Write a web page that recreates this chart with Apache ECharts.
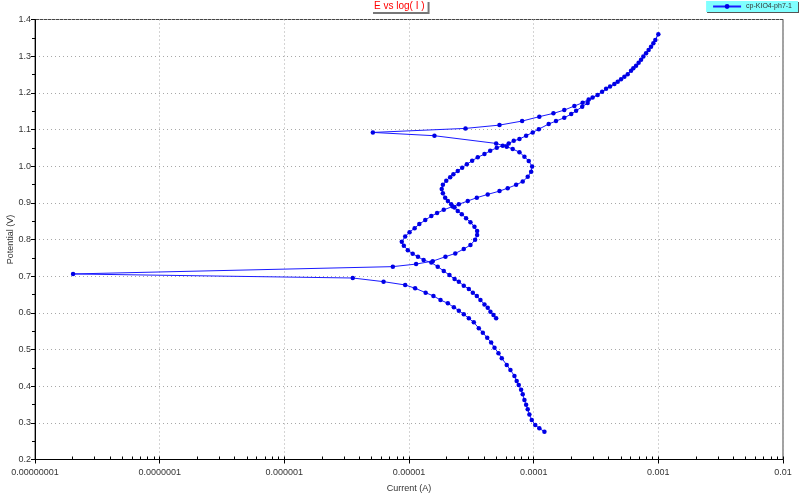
<!DOCTYPE html>
<html>
<head>
<meta charset="utf-8">
<script src="https://cdn.jsdelivr.net/npm/echarts@6/dist/echarts.min.js"></script>
<style>
html,body{margin:0;padding:0;background:#fff;}
#chart{width:800px;height:493px;}
</style>
</head>
<body>
<div id="chart"></div>
<script>
// Forward scan, cathodic branch (from lowest potential upward), current in A, potential in V
const fwdCathodicI = [1.22e-4,1.11e-4,1.03e-4,9.65e-5,9.24e-5,8.96e-5,8.70e-5,8.43e-5,8.17e-5,7.93e-5,7.59e-5,7.31e-5,7.01e-5,6.51e-5,6.08e-5,5.55e-5,5.22e-5,4.85e-5,4.56e-5,4.24e-5,3.91e-5,3.63e-5,3.31e-5,3.02e-5,2.75e-5,2.51e-5,2.29e-5,2.05e-5,1.79e-5,1.57e-5,1.36e-5,1.12e-5,9.32e-6,6.25e-6,3.54e-6,2.02e-8];
const fwdCathodicE = [0.276,0.285,0.294,0.308,0.323,0.337,0.349,0.362,0.378,0.390,0.403,0.414,0.428,0.444,0.458,0.476,0.490,0.505,0.519,0.532,0.546,0.558,0.574,0.585,0.596,0.606,0.615,0.626,0.635,0.646,0.655,0.667,0.676,0.685,0.695,0.706];
// Forward scan, anodic branch up to the vertex
const fwdAnodicI = [7.42e-6,1.14e-5,1.55e-5,1.96e-5,2.35e-5,2.75e-5,3.11e-5,3.39e-5,3.52e-5,3.52e-5,3.35e-5,3.11e-5,2.87e-5,2.65e-5,2.46e-5,2.32e-5,2.18e-5,2.05e-5,1.95e-5,1.87e-5,1.83e-5,1.87e-5,1.99e-5,2.14e-5,2.27e-5,2.46e-5,2.67e-5,2.91e-5,3.21e-5,3.56e-5,4.03e-5,4.48e-5,5.06e-5,5.65e-5,6.31e-5,6.92e-5,7.69e-5,8.70e-5,9.83e-5,1.10e-4,1.32e-4,1.51e-4,1.76e-4,2.00e-4,2.19e-4,2.45e-4,2.71e-4,2.97e-4,3.54e-4,4.10e-4,4.72e-4,5.34e-4,6.04e-4,6.63e-4,7.27e-4,7.97e-4,8.74e-4,9.46e-4,1.0e-3];
const fwdAnodicE = [0.726,0.733,0.741,0.753,0.762,0.774,0.785,0.799,0.812,0.823,0.835,0.847,0.858,0.869,0.878,0.887,0.896,0.905,0.914,0.926,0.938,0.949,0.960,0.970,0.978,0.987,0.996,1.005,1.015,1.024,1.033,1.042,1.050,1.056,1.062,1.069,1.074,1.083,1.092,1.101,1.115,1.123,1.132,1.142,1.151,1.162,1.172,1.187,1.203,1.217,1.230,1.244,1.260,1.274,1.290,1.308,1.326,1.344,1.360];
// Reverse scan, from the vertex down to the zero-current point
const revAnodicI = [9.12e-4,8.36e-4,7.58e-4,6.95e-4,6.30e-4,5.68e-4,5.02e-4,4.44e-4,3.81e-4,3.26e-4,2.76e-4,2.47e-4,2.12e-4,1.76e-4,1.44e-4,1.11e-4,8.08e-5,5.32e-5,2.84e-5,5.13e-6];
const revAnodicE = [1.335,1.317,1.299,1.282,1.267,1.251,1.237,1.224,1.211,1.194,1.182,1.173,1.164,1.153,1.144,1.135,1.123,1.112,1.103,1.092];
// Reverse scan, cathodic part down to the final potential
const revCathodicI = [1.60e-5,5.00e-5,6.08e-5,6.79e-5,7.69e-5,8.43e-5,9.13e-5,9.72e-5,9.54e-5,8.96e-5,8.17e-5,7.23e-5,6.19e-5,5.32e-5,4.28e-5,3.50e-5,2.96e-5,2.51e-5,2.24e-5,1.90e-5,1.68e-5,1.51e-5,1.35e-5,1.21e-5,1.11e-5,1.01e-5,9.32e-6,8.75e-6,9.09e-6,9.78e-6,1.07e-5,1.18e-5,1.31e-5,1.51e-5,1.70e-5,1.90e-5,2.11e-5,2.32e-5,2.51e-5,2.75e-5,3.02e-5,3.25e-5,3.50e-5,3.74e-5,4.03e-5,4.28e-5,4.50e-5,4.76e-5,5.00e-5];
const revCathodicE = [1.083,1.062,1.053,1.047,1.038,1.026,1.014,0.999,0.985,0.971,0.958,0.949,0.940,0.932,0.923,0.914,0.905,0.896,0.890,0.881,0.872,0.864,0.853,0.842,0.831,0.820,0.808,0.794,0.783,0.771,0.761,0.753,0.744,0.737,0.726,0.714,0.703,0.692,0.685,0.674,0.665,0.655,0.646,0.635,0.623,0.614,0.603,0.594,0.585];

const yTicks = [0.2,0.3,0.4,0.5,0.6,0.7,0.8,0.9,1.0,1.1,1.2,1.3,1.4];
const xDecades = [1e-8,1e-7,1e-6,1e-5,1e-4,1e-3,1e-2];
const seriesName = 'cp-KIO4-ph7-1';
const chartTitle = 'E vs log( I )';

function zip(a, b){ return a.map((v,i)=>[v,b[i]]); }
const data = [].concat(
  zip(fwdCathodicI, fwdCathodicE),
  zip(fwdAnodicI, fwdAnodicE),
  zip(revAnodicI, revAnodicE),
  zip(revCathodicI, revCathodicE)
);

const minorX = [];
for (let d = 0; d < xDecades.length - 1; d++) {
  for (let k = 1; k <= 9; k++) minorX.push(+(xDecades[d]*k).toPrecision(3));
}
minorX.push(xDecades[xDecades.length-1]);

function fmtX(v){
  const digits = Math.max(0, Math.round(-Math.log10(v)));
  return v.toFixed(digits);
}

const FONT = 'Liberation Sans, Arial, sans-serif';
const gridDash = { type: [1, 3], color: '#a8a8a8', width: 1 };
const chart = echarts.init(document.getElementById('chart'), null, {renderer:'canvas'});
chart.setOption({
  animation: false,
  backgroundColor: '#fff',
  title: {
    text: chartTitle,
    left: 371, top: 0,
    padding: [1, 3, 1, 3],
    backgroundColor: '#fff',
    shadowColor: '#777', shadowOffsetX: 2, shadowOffsetY: 2, shadowBlur: 0,
    textStyle: { color: '#ff0000', fontSize: 10, fontWeight: 'normal', fontFamily: FONT }
  },
  legend: {
    right: 2, top: 1,
    padding: [2, 6, 2, 6],
    backgroundColor: '#80ffff',
    shadowColor: '#555', shadowOffsetX: 1, shadowOffsetY: 1, shadowBlur: 0,
    itemWidth: 28, itemHeight: 6, itemGap: 4,
    textStyle: { fontSize: 7, color: '#333', fontFamily: FONT },
    data: [seriesName]
  },
  grid: {
    left: 35, right: 17, top: 19.5, bottom: 33.5,
    outerBoundsMode: 'none', containLabel: false,
    show: true, borderColor: '#444', borderWidth: 1, backgroundColor: 'transparent'
  },
  xAxis: [{
    type: 'log', logBase: 10, min: 1e-8, max: 1e-2,
    position: 'bottom',
    name: 'Current (A)', nameLocation: 'middle', nameGap: 25,
    nameTextStyle: { fontSize: 9, color: '#333', fontFamily: FONT },
    axisLine: { show: true, lineStyle: { color: '#000', width: 1 } },
    axisTick: { show: true, customValues: xDecades, length: 4, lineStyle: { color: '#000' } },
    axisLabel: { customValues: xDecades, formatter: fmtX, fontSize: 9, color: '#333', fontFamily: FONT, margin: 9 },
    splitLine: { show: true, lineStyle: gridDash }
  }, {
    type: 'log', logBase: 10, min: 1e-8, max: 1e-2,
    position: 'bottom', offset: 0,
    axisLine: { show: false },
    axisTick: { show: true, inside: true, customValues: minorX, length: 3, lineStyle: { color: '#000' } },
    axisLabel: { show: false },
    splitLine: { show: false }
  }],
  yAxis: {
    type: 'value', min: 0.2, max: 1.4, interval: 0.1,
    name: 'Potential (V)', nameLocation: 'middle', nameGap: 20, nameRotate: 90,
    nameMoveOverlap: false,
    nameTextStyle: { fontSize: 9, color: '#333', fontFamily: FONT },
    axisLine: { show: true, lineStyle: { color: '#000', width: 1 } },
    axisTick: { show: true, length: 4, lineStyle: { color: '#000' } },
    minorTick: { show: true, splitNumber: 2, length: 3, lineStyle: { color: '#000' } },
    axisLabel: { formatter: v => v.toFixed(1), fontSize: 9, color: '#333', fontFamily: FONT, margin: 4 },
    splitLine: { show: true, lineStyle: gridDash }
  },
  series: [{
    name: seriesName,
    type: 'line',
    xAxisIndex: 0,
    data: data,
    symbol: 'circle',
    symbolSize: 4.5,
    showAllSymbol: true,
    lineStyle: { color: '#1a1aff', width: 1 },
    itemStyle: { color: '#0000e6' },
    emphasis: { disabled: true }
  }]
});
</script>
</body>
</html>
